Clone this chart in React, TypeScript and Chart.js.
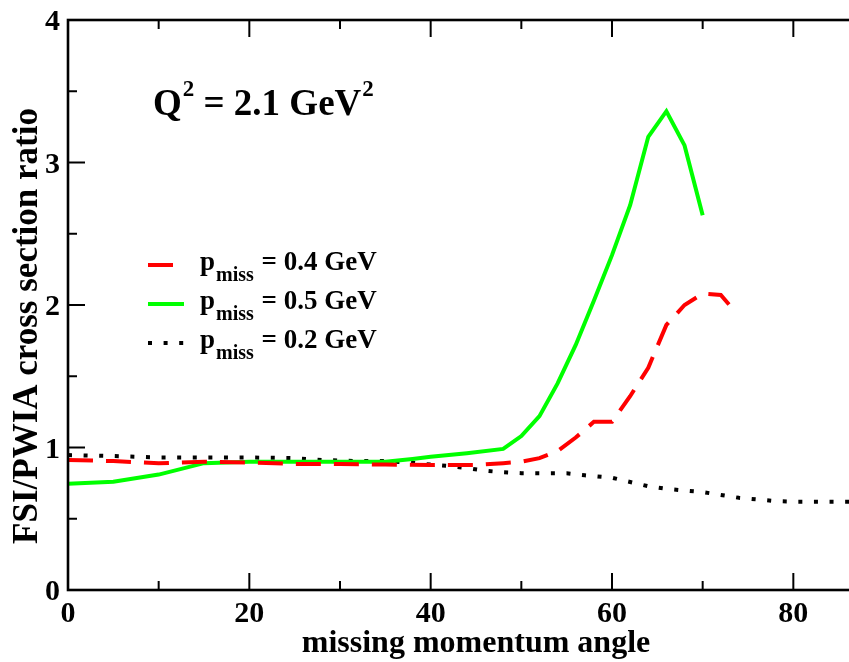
import React, { useEffect, useRef } from "react";
import { Chart, registerables } from "chart.js";

Chart.register(...registerables);

// ---- data ----
const redAngles = [0, 5, 10, 15, 20, 25, 30, 35, 40, 45, 48, 50, 52, 54, 56, 58, 60, 62, 64, 66, 68, 70, 72, 73.5];
const redValues = [0.912, 0.905, 0.889, 0.9, 0.895, 0.884, 0.884, 0.88, 0.877, 0.877, 0.89, 0.9, 0.925, 0.975, 1.07, 1.18, 1.18, 1.36, 1.56, 1.86, 2.0, 2.08, 2.07, 1.96];

const greenAngles = [0, 5, 10, 15, 20, 25, 30, 35, 38, 40, 44, 48, 50, 52, 54, 56, 58, 60, 62, 64, 66, 68, 70];
const greenValues = [0.745, 0.76, 0.81, 0.89, 0.9, 0.9, 0.9, 0.9, 0.92, 0.935, 0.96, 0.99, 1.08, 1.22, 1.45, 1.72, 2.03, 2.35, 2.7, 3.18, 3.36, 3.12, 2.63];

const blackAngles = [0, 5, 10, 15, 20, 25, 28, 32, 35, 38, 40, 42, 44, 46, 48, 50, 55, 57, 60, 62, 64, 66, 68, 70, 72, 74, 76, 78, 80, 90];
const blackValues = [0.947, 0.94, 0.93, 0.93, 0.93, 0.925, 0.912, 0.905, 0.905, 0.893, 0.88, 0.87, 0.855, 0.837, 0.826, 0.82, 0.819, 0.805, 0.788, 0.758, 0.728, 0.71, 0.698, 0.687, 0.667, 0.647, 0.636, 0.624, 0.62, 0.62];

const seriesLabels = ["0.4", "0.5", "0.2"];

const xMajorTicks = [0, 20, 40, 60, 80];
const xMinorTicks = [10, 30, 50, 70, 90];
const yMajorTicks = [0, 1, 2, 3, 4];
const yMinorTicks = [0.5, 1.5, 2.5, 3.5];

const xTitle = "missing momentum angle";
const yTitle = "FSI/PWIA cross section ratio";

const FONT = '"Liberation Serif", "Times New Roman", serif';
const f = (s: number) => `bold ${s}px ${FONT}`;

const RED = "#ff0000";
const GREEN = "#00ff00";
const BLACK = "#000000";
const RED_DASH = [25, 13];
const DOT_DASH = [4, 11.6];

const framePlugin = {
  id: "framePlugin",
  afterDatasetsDraw(chart: any) {
    const ctx: CanvasRenderingContext2D = chart.ctx;
    const { left, right, top, bottom } = chart.chartArea;
    const xs = chart.scales.x;
    const ys = chart.scales.y;
    ctx.save();
    ctx.setLineDash([]);
    ctx.strokeStyle = "#000";
    // frame
    ctx.lineWidth = 2.6;
    ctx.strokeRect(left, top, right - left, bottom - top);
    // ticks
    ctx.lineWidth = 2;
    const tick = (x1: number, y1: number, x2: number, y2: number) => {
      ctx.beginPath();
      ctx.moveTo(x1, y1);
      ctx.lineTo(x2, y2);
      ctx.stroke();
    };
    xMajorTicks.forEach((v) => {
      const px = xs.getPixelForValue(v);
      tick(px, bottom, px, bottom - 17);
      tick(px, top, px, top + 17);
    });
    xMinorTicks.forEach((v) => {
      const px = xs.getPixelForValue(v);
      tick(px, bottom, px, bottom - 9);
      tick(px, top, px, top + 9);
    });
    yMajorTicks.forEach((v) => {
      const py = ys.getPixelForValue(v);
      tick(left, py, left + 17, py);
      tick(right, py, right - 17, py);
    });
    yMinorTicks.forEach((v) => {
      const py = ys.getPixelForValue(v);
      tick(left, py, left + 9, py);
      tick(right, py, right - 9, py);
    });

    // tick labels
    ctx.fillStyle = "#000";
    ctx.font = f(30);
    ctx.textAlign = "center";
    ctx.textBaseline = "alphabetic";
    xMajorTicks.forEach((v) => {
      ctx.fillText(String(v), xs.getPixelForValue(v), bottom + 32);
    });
    ctx.textAlign = "right";
    yMajorTicks.forEach((v) => {
      ctx.fillText(String(v), left - 8, ys.getPixelForValue(v) + 10);
    });

    // axis titles
    ctx.font = f(32);
    ctx.textAlign = "center";
    ctx.fillText(xTitle, (left + right) / 2, bottom + 62);
    ctx.save();
    ctx.font = f(35);
    ctx.translate(left - 31, 326);
    ctx.rotate(-Math.PI / 2);
    ctx.textBaseline = "alphabetic";
    ctx.fillText(yTitle, 0, 0);
    ctx.restore();

    // annotation Q^2 = 2.1 GeV^2
    ctx.textAlign = "left";
    let x = 153;
    const base = 115;
    ctx.font = f(37);
    ctx.fillText("Q", x, base);
    x += ctx.measureText("Q").width + 1;
    ctx.font = f(23);
    ctx.fillText("2", x, base - 19);
    x += ctx.measureText("2").width;
    ctx.font = f(37);
    const mid = " = 2.1 GeV";
    ctx.fillText(mid, x, base);
    x += ctx.measureText(mid).width + 1;
    ctx.font = f(23);
    ctx.fillText("2", x, base - 19);

    // legend
    const styles = [
      { color: RED, dash: RED_DASH },
      { color: GREEN, dash: [] as number[] },
      { color: BLACK, dash: DOT_DASH },
    ];
    const baselines = [270, 309, 348];
    seriesLabels.forEach((lab, i) => {
      const st = styles[i];
      const b = baselines[i];
      ctx.save();
      ctx.strokeStyle = st.color;
      ctx.lineWidth = 4;
      ctx.lineCap = "butt";
      ctx.setLineDash(st.dash);
      ctx.beginPath();
      ctx.moveTo(148, b - 5);
      ctx.lineTo(184, b - 5);
      ctx.stroke();
      ctx.restore();
      let tx = 200;
      ctx.font = f(27);
      ctx.fillText("p", tx, b);
      tx += ctx.measureText("p").width + 1;
      ctx.font = f(20);
      ctx.fillText("miss", tx, b + 11);
      tx += ctx.measureText("miss").width + 1;
      ctx.font = f(27);
      ctx.fillText(" = " + lab + " GeV", tx, b);
    });
    ctx.restore();
  },
};

export default function App() {
  const ref = useRef<HTMLCanvasElement | null>(null);
  useEffect(() => {
    if (!ref.current) return;
    const pts = (xs: number[], ys: number[]) => xs.map((x, i) => ({ x, y: ys[i] }));
    const chart = new Chart(ref.current, {
      type: "line",
      data: {
        datasets: [
          {
            label: seriesLabels[0],
            data: pts(redAngles, redValues),
            borderColor: RED,
            borderWidth: 4,
            borderDash: RED_DASH,
            borderCapStyle: "butt",
            pointRadius: 0,
            tension: 0,
            fill: false,
          },
          {
            label: seriesLabels[1],
            data: pts(greenAngles, greenValues),
            borderColor: GREEN,
            borderWidth: 4,
            pointRadius: 0,
            tension: 0,
            fill: false,
          },
          {
            label: seriesLabels[2],
            data: pts(blackAngles, blackValues),
            borderColor: BLACK,
            borderWidth: 4,
            borderDash: DOT_DASH,
            borderCapStyle: "butt",
            pointRadius: 0,
            tension: 0,
            fill: false,
          },
        ],
      },
      options: {
        animation: false,
        responsive: false,
        devicePixelRatio: 1,
        layout: { padding: { left: 68, top: 20, right: 16, bottom: 72 } },
        plugins: { legend: { display: false }, tooltip: { enabled: false } },
        scales: {
          x: { type: "linear", min: 0, max: 90, display: false },
          y: { type: "linear", min: 0, max: 4, display: false },
        },
      },
      plugins: [framePlugin],
    } as any);
    return () => chart.destroy();
  }, []);
  return (
    <div style={{ position: "fixed", left: 0, top: 0, width: 849, height: 662, overflow: "hidden", background: "#fff" }}>
      <canvas ref={ref} width={900} height={662} style={{ display: "block" }} />
    </div>
  );
}
